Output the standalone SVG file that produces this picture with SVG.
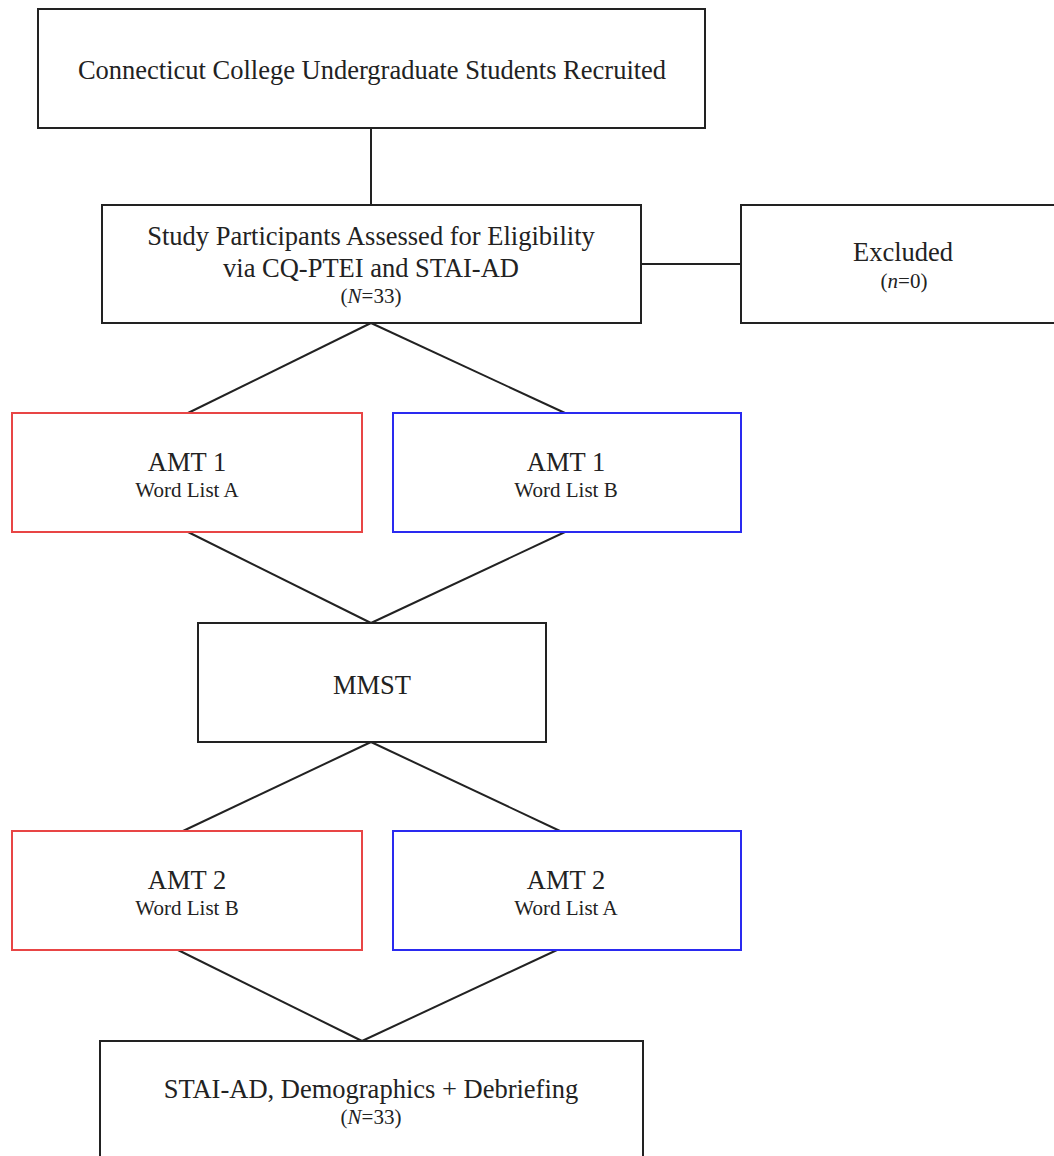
<svg xmlns="http://www.w3.org/2000/svg" width="1054" height="1156" viewBox="0 0 1054 1156">
<style>
.box{fill:#fff;stroke:#222;stroke-width:2}
.red{fill:#fff;stroke:#e84545;stroke-width:2}
.blue{fill:#fff;stroke:#2a2af0;stroke-width:2}
.edge{stroke:#222;stroke-width:2;fill:none}
text{font-family:"Liberation Serif","Times New Roman",serif;fill:#222;text-anchor:middle}
.big{font-size:26.5px}
.mid{font-size:21px}
.sm{font-size:21px}
</style>
<rect width="1054" height="1156" fill="#fff"/>
<g id="connectors">
<line class="edge" x1="371" y1="128" x2="371" y2="205"/>
<line class="edge" x1="641" y1="264" x2="741" y2="264"/>
<line class="edge" x1="371" y1="323" x2="188" y2="413"/>
<line class="edge" x1="371" y1="323" x2="565" y2="413"/>
<line class="edge" x1="188" y1="532" x2="371" y2="623"/>
<line class="edge" x1="565" y1="532" x2="371" y2="623"/>
<line class="edge" x1="371" y1="742" x2="183" y2="831"/>
<line class="edge" x1="371" y1="742" x2="560" y2="831"/>
<line class="edge" x1="178" y1="950" x2="362" y2="1041"/>
<line class="edge" x1="557" y1="950" x2="362" y2="1041"/>
</g>
<g id="recruited">
<rect class="box" x="38" y="9" width="667" height="119"/>
<text class="big" x="372" y="79">Connecticut College Undergraduate Students Recruited</text>
</g>
<g id="assessed">
<rect class="box" x="102" y="205" width="539" height="118"/>
<text class="big" x="371" y="245">Study Participants Assessed for Eligibility</text>
<text class="big" x="371" y="277">via CQ-PTEI and STAI-AD</text>
<text class="sm" x="371" y="303">(<tspan font-style="italic">N</tspan>=33)</text>
</g>
<g id="excluded">
<rect class="box" x="741" y="205" width="330" height="118"/>
<text class="big" x="903" y="261">Excluded</text>
<text class="sm" x="904" y="288">(<tspan font-style="italic">n</tspan>=0)</text>
</g>
<g id="amt1a">
<rect class="red" x="12" y="413" width="350" height="119"/>
<text class="big" x="187" y="471">AMT 1</text>
<text class="mid" x="187" y="497">Word List A</text>
</g>
<g id="amt1b">
<rect class="blue" x="393" y="413" width="348" height="119"/>
<text class="big" x="566" y="471">AMT 1</text>
<text class="mid" x="566" y="497">Word List B</text>
</g>
<g id="mmst">
<rect class="box" x="198" y="623" width="348" height="119"/>
<text class="big" x="372" y="694">MMST</text>
</g>
<g id="amt2b">
<rect class="red" x="12" y="831" width="350" height="119"/>
<text class="big" x="187" y="889">AMT 2</text>
<text class="mid" x="187" y="915">Word List B</text>
</g>
<g id="amt2a">
<rect class="blue" x="393" y="831" width="348" height="119"/>
<text class="big" x="566" y="889">AMT 2</text>
<text class="mid" x="566" y="915">Word List A</text>
</g>
<g id="final">
<rect class="box" x="100" y="1041" width="543" height="130"/>
<text class="big" x="371" y="1098">STAI-AD, Demographics + Debriefing</text>
<text class="sm" x="371" y="1124">(<tspan font-style="italic">N</tspan>=33)</text>
</g>
</svg>
